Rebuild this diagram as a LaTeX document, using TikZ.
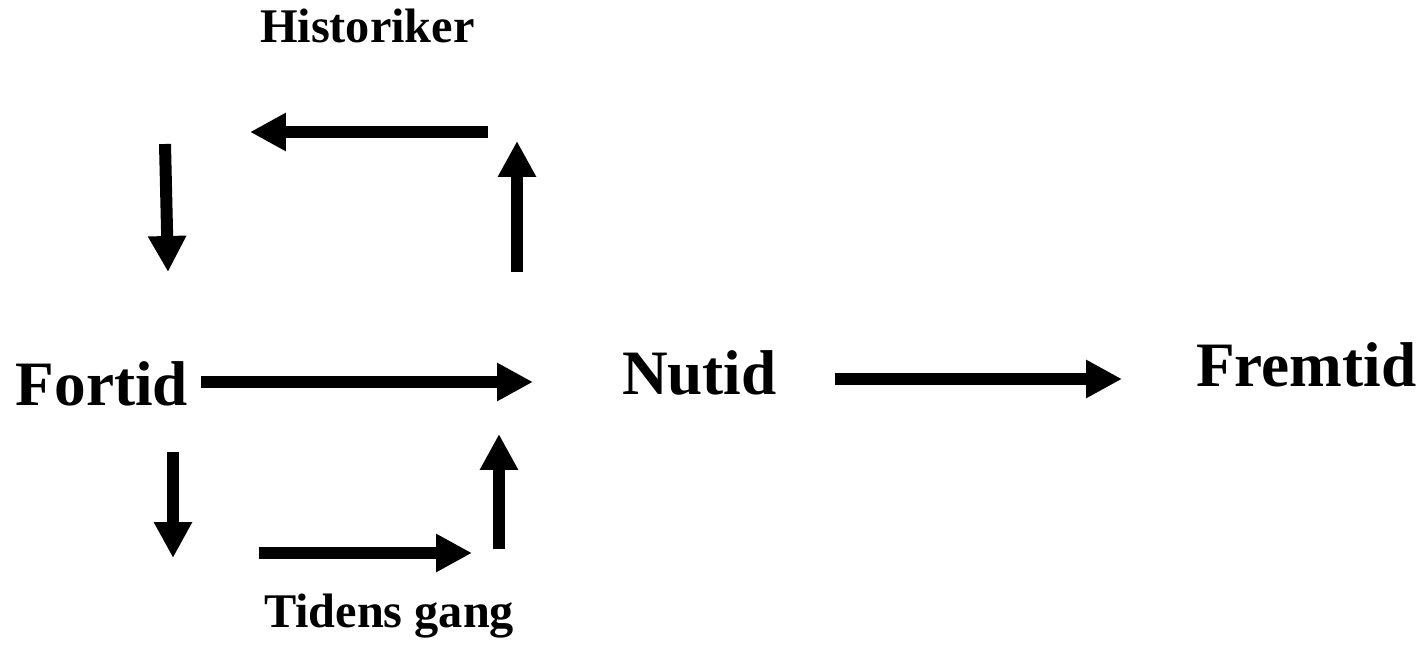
\documentclass[tikz,border=0pt]{standalone}
\usepackage{fontspec}
\setmainfont{Liberation Serif}
\usetikzlibrary{arrows.meta}
\def\shaftwidth{0.24cm}

\begin{document}
\begin{tikzpicture}[x=0.02cm,y=-0.02cm,line width=\shaftwidth]
    \tikzstyle{word}=[inner sep=0pt,anchor=base west,font=\bfseries]
    \tikzstyle{big word}=[word,font=\fontsize{36}{43}\selectfont\bfseries]
    \tikzstyle{small word}=[word,font=\fontsize{27.5}{33}\selectfont\bfseries]
    \tikzstyle{fat arrow}=[-{Triangle[length=0.72cm,width=0.72cm]}]

    \useasboundingbox (0,0) rectangle (1428,648);

    % Draw the time words
    \node[big word] (fortid) at (10,406) {Fortid};
    \node[big word] (nutid) at (616,395) {Nutid};
    \node[big word] (fremtid) at (1190,387) {Fremtid};
    \node[small word] (hist) at (254,43) {Historiker};
    \node[small word] (gang) at (258,628) {Tidens gang};

    % Arrow ends
    \coordinate (f-out) at (201,382);
    \coordinate (f-in) at (533,382);
    \coordinate (n-out) at (835,379);
    \coordinate (n-in) at (1122,379);
    \coordinate (h-1) at (517,272);
    \coordinate (h-2) at (517,141);
    \coordinate (h-3) at (488,132);
    \coordinate (h-4) at (250,132);
    \coordinate (h-5) at (165,144);
    \coordinate (h-6) at (168,272);
    \coordinate (t-1) at (173,452);
    \coordinate (t-2) at (173,558);
    \coordinate (t-3) at (259,553);
    \coordinate (t-4) at (472,553);
    \coordinate (t-5) at (499,549);
    \coordinate (t-6) at (499,434);

    % Straight line of time
    \draw[fat arrow] (f-out) -- (f-in);
    \draw[fat arrow] (n-out) -- (n-in);

    % The historian's way round (top) and time's way (bottom)
    \foreach \a / \b in {1/2,3/4,5/6}
        \draw[fat arrow] (h-\a) -- (h-\b);
    \foreach \a / \b in {1/2,3/4,5/6}
        \draw[fat arrow] (t-\a) -- (t-\b);
\end{tikzpicture}
\end{document}
